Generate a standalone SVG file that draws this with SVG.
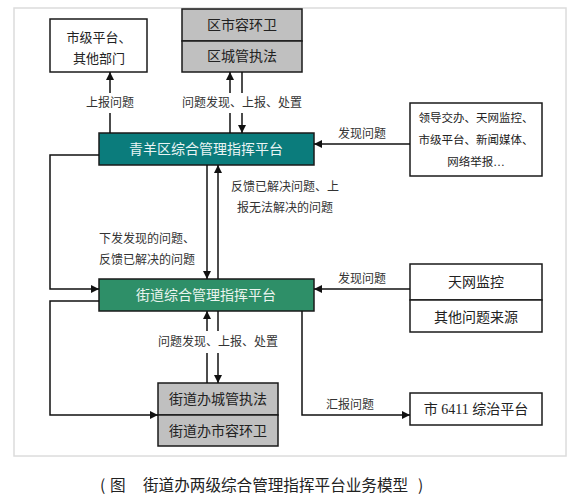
<svg xmlns="http://www.w3.org/2000/svg" width="571" height="504" viewBox="0 0 571 504">
<style>
.frame{fill:#fff;stroke:#dcdcdc;stroke-width:1.5}
.box{fill:#fff;stroke:#1a1a1a;stroke-width:1.5}
.gbox{fill:#c0c0c0;stroke:#1a1a1a;stroke-width:1.5}
.t{font-family:"Liberation Serif","Noto Sans CJK SC",serif;fill:#222;text-anchor:middle}
.lbl{font-family:"Liberation Serif","Noto Sans CJK SC",serif;fill:#333;font-size:12px}
.ln{fill:none;stroke:#111;stroke-width:1.5}
.cap{font-family:"Noto Sans CJK SC",sans-serif;fill:#222;font-size:15.6px}
</style>
<defs>
<marker id="ah" viewBox="0 0 10 10" refX="10" refY="5" markerWidth="8" markerHeight="8" markerUnits="userSpaceOnUse" orient="auto">
<path d="M0,0 L10,5 L0,10 z" fill="#111"/>
</marker>
</defs>
<rect class="frame" x="14" y="8" width="552" height="448"/>

<g id="city-dept">
<rect class="box" x="50" y="19" width="97" height="53"/>
<text class="t" x="99" y="42" font-size="13">市级平台、</text>
<text class="t" x="99" y="63" font-size="13">其他部门</text>
</g>

<g id="district-depts">
<rect class="gbox" x="182" y="9" width="120" height="32"/>
<rect class="gbox" x="182" y="41" width="120" height="31"/>
<text class="t" x="242" y="30" font-size="14">区市容环卫</text>
<text class="t" x="242" y="61" font-size="14">区城管执法</text>
</g>

<g id="district-platform">
<rect x="99" y="133" width="215" height="32" fill="#0b7c7c" stroke="#1a1a1a" stroke-width="1.5"/>
<text class="t" x="206" y="154" font-size="14" style="fill:#eaf4f4">青羊区综合管理指挥平台</text>
</g>

<g id="sources-district">
<rect class="box" x="410" y="103" width="132" height="73"/>
<text class="t" x="476" y="122" font-size="11.5">领导交办、天网监控、</text>
<text class="t" x="476" y="144" font-size="11.5">市级平台、新闻媒体、</text>
<text class="t" x="476" y="166" font-size="11.5">网络举报…</text>
</g>

<g id="street-platform">
<rect x="99" y="279" width="215" height="32" fill="#2e8f68" stroke="#1a1a1a" stroke-width="1.5"/>
<text class="t" x="206" y="300" font-size="14" style="fill:#eaf4ee">街道综合管理指挥平台</text>
</g>

<g id="sources-street">
<rect class="box" x="410" y="264" width="132" height="36"/>
<rect class="box" x="410" y="300" width="132" height="32"/>
<text class="t" x="476" y="287" font-size="14">天网监控</text>
<text class="t" x="476" y="322" font-size="14">其他问题来源</text>
</g>

<g id="street-depts">
<rect class="gbox" x="158" y="383" width="120" height="32"/>
<rect class="gbox" x="158" y="415" width="120" height="31"/>
<text class="t" x="218" y="404" font-size="14">街道办城管执法</text>
<text class="t" x="218" y="436" font-size="14">街道办市容环卫</text>
</g>

<g id="city-6411">
<rect class="box" x="410" y="393" width="132" height="32"/>
<text class="t" x="476" y="414" font-size="14">市 6411 综治平台</text>
</g>

<g id="connectors">
<path class="ln" d="M110,133 V113"/>
<path class="ln" d="M110,93 V72" marker-end="url(#ah)"/>
<path class="ln" d="M230,133 V113"/>
<path class="ln" d="M230,93 V72" marker-end="url(#ah)"/>
<path class="ln" d="M242,72 V93"/>
<path class="ln" d="M242,113 V133" marker-end="url(#ah)"/>
<path class="ln" d="M410,144 H314" marker-end="url(#ah)"/>
<path class="ln" d="M99,155 H50 V289 H99" marker-end="url(#ah)"/>
<path class="ln" d="M207,165 V279" marker-end="url(#ah)"/>
<path class="ln" d="M218,279 V165" marker-end="url(#ah)"/>
<path class="ln" d="M410,289 H314" marker-end="url(#ah)"/>
<path class="ln" d="M99,301 H50 V415 H158" marker-end="url(#ah)"/>
<path class="ln" d="M207,331 V311" marker-end="url(#ah)"/>
<path class="ln" d="M207,383 V353"/>
<path class="ln" d="M218,311 V331"/>
<path class="ln" d="M218,353 V383" marker-end="url(#ah)"/>
<path class="ln" d="M302,311 V415 H410" marker-end="url(#ah)"/>
<text class="lbl" x="110" y="107" text-anchor="middle">上报问题</text>
<text class="lbl" x="242" y="107" text-anchor="middle">问题发现、上报、处置</text>
<text class="lbl" x="362" y="138" text-anchor="middle">发现问题</text>
<text class="lbl" x="231" y="191">反馈已解决问题、上</text>
<text class="lbl" x="237" y="212">报无法解决的问题</text>
<text class="lbl" x="99" y="243">下发发现的问题、</text>
<text class="lbl" x="99" y="264">反馈已解决的问题</text>
<text class="lbl" x="362" y="283" text-anchor="middle">发现问题</text>
<text class="lbl" x="218" y="346" text-anchor="middle">问题发现、上报、处置</text>
<text class="lbl" x="350" y="409" text-anchor="middle">汇报问题</text>
</g>

<text class="cap" y="491"><tspan x="100">(</tspan><tspan x="110">图</tspan><tspan x="143">街道办两级综合管理指挥平台业务模型</tspan><tspan x="418">)</tspan></text>
</svg>
